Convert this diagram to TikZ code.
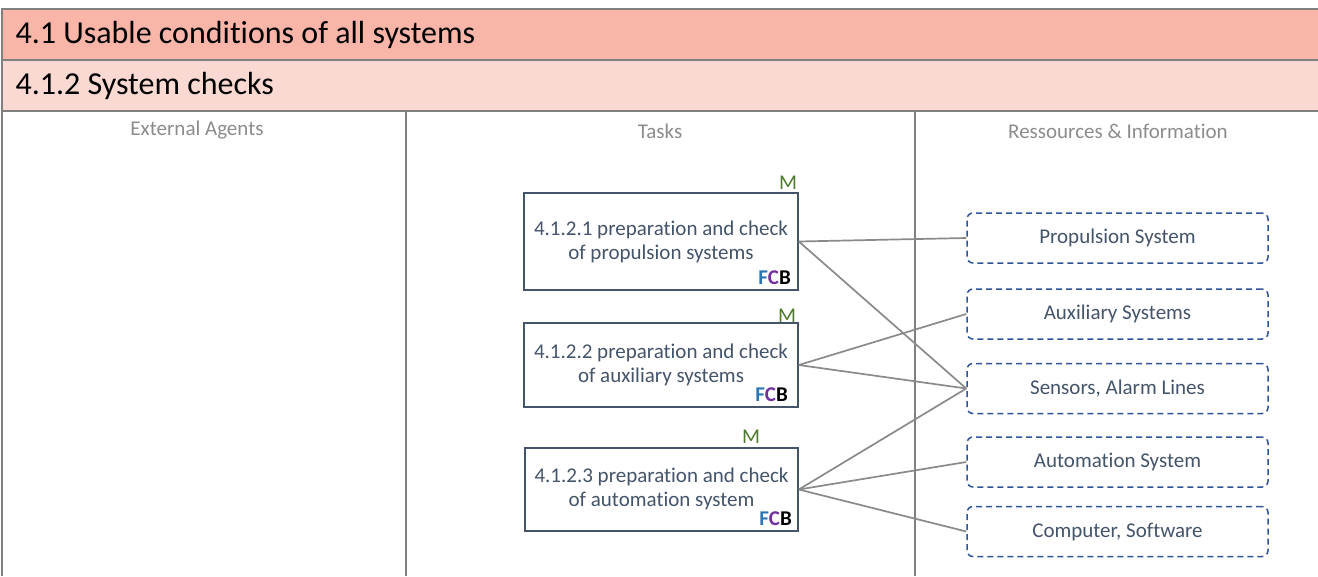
\documentclass[tikz,border=0pt]{standalone}
\usepackage{fontspec}
\setmainfont{Carlito}[Ligatures=NoCommon]
\definecolor{bandA}{HTML}{F8B5A8}
\definecolor{bandB}{HTML}{FBD9D3}
\definecolor{frame}{HTML}{808080}
\definecolor{slate}{HTML}{44546A}
\definecolor{resblue}{HTML}{2F5597}
\definecolor{mgreen}{HTML}{4E7A30}
\definecolor{fblue}{HTML}{2E75B6}
\definecolor{cpurple}{HTML}{7030A0}
\definecolor{lanegray}{HTML}{8C8C8C}
\definecolor{linkgray}{HTML}{8A8A8A}
\tikzset{
  taskbox/.style={draw=slate, line width=1.6pt, fill=white, inner sep=0pt},
  tasktext/.style={text=slate, align=center, font=\fontsize{21}{23.5}\selectfont, inner sep=0pt},
  resbox/.style={draw=resblue, line width=1.5pt, dash pattern=on 6pt off 4pt, rounded corners=6pt,
    text=slate, font=\fontsize{21}{24}\selectfont, minimum width=301pt, minimum height=50pt,
    inner sep=0pt},
  lanelabel/.style={text=lanegray, font=\fontsize{21}{24}\selectfont},
  mark M/.style={text=mgreen, font=\fontsize{21}{24}\selectfont, inner sep=0pt},
  fcb/.style={font=\fontsize{21}{24}\selectfont\bfseries, inner sep=0pt},
  headline/.style={anchor=west, font=\fontsize{32}{36}\selectfont},
  link/.style={draw=linkgray, line width=1.7pt},
}
\newcommand{\fcbtag}{\textcolor{fblue}{F}\textcolor{cpurple}{C}\textcolor{black}{B}}
\begin{document}
\begin{tikzpicture}[x=1pt, y=-1pt]
  \useasboundingbox (0,0) rectangle (1318,576);
  \fill[white] (0,0) rectangle (1318,576);

  % title bands
  \fill[bandA] (2,9) rectangle (1318,60);
  \fill[bandB] (2,60) rectangle (1318,111);
  \draw[frame, line width=2pt] (2,9) -- (1318,9);
  \draw[frame, line width=1.5pt] (2,60) -- (1318,60);
  \draw[frame, line width=2pt] (2,111) -- (1318,111);
  \draw[frame, line width=2pt] (2,8) -- (2,576);
  \node[headline] (title) at (12,35) {4.1 Usable conditions of all systems};
  \node[headline] (subtitle) at (12,86) {4.1.2 System checks};

  % swim lanes
  \draw[frame, line width=2.6pt] (406,111) -- (406,576);
  \draw[frame, line width=2.6pt] (915,111) -- (915,576);
  \node[lanelabel] (laneA) at (197,130) {External Agents};
  \node[lanelabel] (laneB) at (660,131) {Tasks};
  \node[lanelabel] (laneC) at (1118,131) {Ressources \& Information};

  % tasks
  \node[taskbox, minimum width=274pt, minimum height=97pt] (t1) at (661,241.5) {};
  \node[tasktext] (t1txt) at (661,242) {4.1.2.1 preparation and check\\of propulsion systems};
  \node[mark M, anchor=base] (t1m) at (788,189) {M};
  \node[fcb, anchor=base east] (t1f) at (791,284) {\fcbtag};

  \node[taskbox, minimum width=274pt, minimum height=84pt] (t2) at (661,365) {};
  \node[tasktext] (t2txt) at (661,365) {4.1.2.2 preparation and check\\of auxiliary systems};
  \node[mark M, anchor=base] (t2m) at (787,322) {M};
  \node[fcb, anchor=base east] (t2f) at (788,401) {\fcbtag};

  \node[taskbox, minimum width=273pt, minimum height=83pt] (t3) at (661.5,489.5) {};
  \node[tasktext] (t3txt) at (661.5,489) {4.1.2.3 preparation and check\\of automation system};
  \node[mark M, anchor=base] (t3m) at (751,443) {M};
  \node[fcb, anchor=base east] (t3f) at (792,525) {\fcbtag};

  % resources
  \node[resbox] (r1) at (1117.5,238) {Propulsion System};
  \node[resbox] (r2) at (1117.5,314) {Auxiliary Systems};
  \node[resbox] (r3) at (1117.5,388.5) {Sensors, Alarm Lines};
  \node[resbox] (r4) at (1117.5,462) {Automation System};
  \node[resbox] (r5) at (1117.5,531.5) {Computer, Software};

  % links
  \draw[link] (t1.east) -- (r1.west);
  \draw[link] (t1.east) -- (r3.west);
  \draw[link] (t2.east) -- (r2.west);
  \draw[link] (t2.east) -- (r3.west);
  \draw[link] (t3.east) -- (r3.west);
  \draw[link] (t3.east) -- (r4.west);
  \draw[link] (t3.east) -- (r5.west);
\end{tikzpicture}
\end{document}
